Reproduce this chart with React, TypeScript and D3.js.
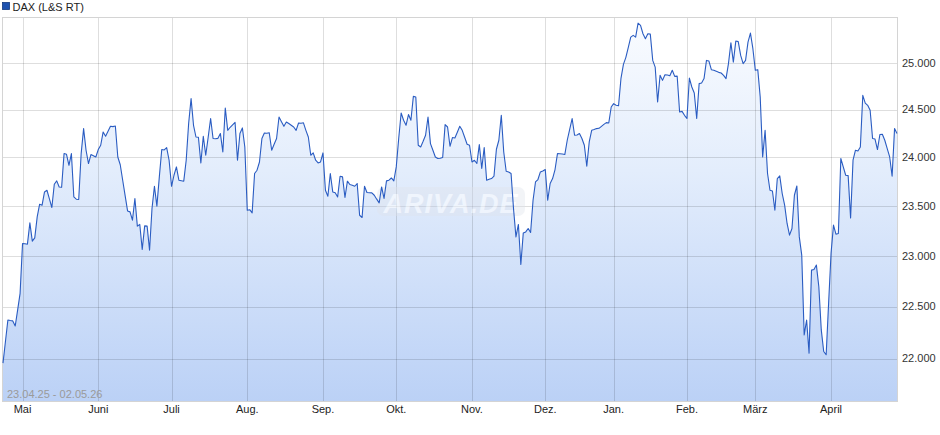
import React from "react";
import * as d3 from "d3";

// ---------- data ----------
const seriesName = "DAX (L&S RT)";
const rangeLabel = "23.04.25 - 02.05.26";
const watermark = "ARIVA.DE";
const firstDay = new Date(2025, 3, 23);
const dayAfterLast = new Date(2026, 4, 3);
const closedDays = [
  "2025-12-24", "2025-12-25", "2025-12-26", "2026-01-01",
  "2026-04-03", "2026-04-04", "2026-04-05", "2026-04-06",
];
const monthLabels = ["Mai", "Juni", "Juli", "Aug.", "Sep.", "Okt.", "Nov.", "Dez.", "Jan.", "Feb.", "März", "April"];
const yTicks = [22000, 22500, 23000, 23500, 24000, 24500, 25000];
const yDomain = [21600, 25500];

// 23.04.25 - 31.07.25
const valuesAprJul = [
  21957, 22163, 22370, 22365, 22361, 22312, 22467, 22629, 23122, 23119,
  23115, 23329, 23145, 23178, 23389, 23518, 23508, 23643, 23660, 23573,
  23484, 23722, 23756, 23694, 23690, 24038, 24031, 23917, 24038, 23592,
  23569, 23566, 24038, 24299, 24073, 23935, 24028, 24016, 24003, 24080,
  24125, 24264, 24219, 24271, 24323, 24320, 24326, 24003, 23922, 23763,
  23606, 23450, 23440, 23356, 23576, 23296, 23313, 23062, 23299, 23296,
  23055, 23474, 23701, 23498, 23797, 24080, 24076, 24101, 23969, 23701,
  23814, 23900, 23763, 23758, 23753, 23969, 24352, 24616, 24334, 24211,
  24208, 23941, 24219, 24021, 24208, 24405, 24195, 24192, 24197, 24247,
  24055, 24516, 24281, 24313, 24339, 24365, 23969, 24247, 24306, 24107,
];
// 01.08.25 - 31.10.25
const valuesAugOct = [
  23457, 23462, 23430, 23832, 23866, 23951, 24195, 24253, 24250, 24256,
  24073, 24135, 24195, 24421, 24371, 24323, 24369, 24352, 24334, 24316,
  24281, 24358, 24355, 24360, 24281, 24211, 24021, 24045, 23969, 23941,
  23951, 24045, 23660, 23599, 23832, 23643, 23635, 23592, 23804, 23797,
  23586, 23753, 23719, 23712, 23701, 23729, 23406, 23383, 23701, 23637,
  23635, 23633, 23609, 23569, 23531, 23694, 23576, 23756, 23763, 23786,
  23756, 23900, 24195, 24464, 24387, 24334, 24447, 24387, 24640, 24633,
  24125, 24107, 24166, 24229, 24421, 24142, 24073, 24003, 23987, 23990,
  23997, 24341, 24316, 24114, 24205, 24200, 24261, 24323, 24281, 24208,
  24135, 24125,
];
// 01.11.25 - 31.01.26
const valuesNovJan = [
  23951, 23969, 23935, 24132, 23883, 24101, 23763, 23773, 23780, 23804,
  24083, 24177, 24439, 24055, 23855, 23848, 23832, 23474, 23188, 23313,
  22914, 23228, 23238, 23272, 23232, 23558, 23745, 23770, 23848, 23858,
  23873, 23558, 23729, 23780, 23873, 24038, 24036, 24033, 24028, 24177,
  24292, 24405, 24229, 24232, 24247, 24195, 24125, 23907, 24159, 24281,
  24289, 24299, 24302, 24323, 24344, 24362, 24358, 24527, 24563, 24545,
  24540, 24833, 24983, 25059, 25167, 25279, 25298, 25279, 25432, 25407,
  25316, 25262, 25316, 25312, 25026, 24954, 24580, 24865, 24811, 24872,
  24869, 24860, 24919, 24854, 24857, 24474, 24481, 24439,
];
// 01.02.26 - 02.05.26
const valuesFebMay = [
  24405, 24836, 24740, 24676, 24405, 24776, 24782, 24830, 25026, 25019,
  24926, 24919, 24908, 24897, 24890, 24865, 24830, 24991, 25218, 25008,
  25236, 25230, 25080, 24991, 25026, 25225, 25323, 25153, 24919, 24926,
  24633, 24003, 24281, 23832, 23660, 23653, 23457, 23780, 23807, 23627,
  23508, 23323, 23205, 23272, 23609, 23704, 23188, 23006, 22226, 22370,
  22052, 22857, 22864, 22907, 22693, 22274, 22067, 22036, 22532, 23023,
  23306, 23215, 23222, 23987, 23900, 23814, 23810, 23379, 23969, 24073,
  24065, 24107, 24651, 24569, 24545, 24492, 24195, 24190, 24080, 24237,
  24240, 24177, 24090, 24003, 23804, 24299, 24247,
];

const values = [...valuesAprJul, ...valuesAugOct, ...valuesNovJan, ...valuesFebMay];

// ---------- chart ----------
const W = 940;
const H = 435;
const plot = { left: 3, right: 897, top: 17, bottom: 401 };
const font = "Arial, 'Liberation Sans', Helvetica, sans-serif";

const fmtKey = d3.timeFormat("%Y-%m-%d");
const dates = d3.timeDay.range(firstDay, dayAfterLast).filter((d) => !closedDays.includes(fmtKey(d)));

const de = d3.formatLocale({ decimal: ",", thousands: ".", grouping: [3], currency: ["", " €"] });
const fmtY = de.format(",.0f");

export default function App() {
  const n = Math.min(values.length, dates.length);
  const data = values.slice(0, n);
  const x = d3.scaleLinear().domain([0, n - 1]).range([plot.left, plot.right]);
  const y = d3.scaleLog().domain(yDomain).range([plot.bottom, plot.top]);

  const monthTicks = dates
    .slice(0, n)
    .map((d, i) => ({ d, i }))
    .filter(({ d, i }) => i > 0 && d.getMonth() !== dates[i - 1].getMonth())
    .slice(0, monthLabels.length)
    .map((t, k) => ({ ...t, label: monthLabels[k] }));

  const line = d3
    .line<number>()
    .x((_, i) => x(i))
    .y((v) => y(v));
  const area = d3
    .area<number>()
    .x((_, i) => x(i))
    .y0(plot.bottom)
    .y1((v) => y(v));

  return (
    <svg
      width={W}
      height={H}
      style={{ position: "absolute", left: 0, top: 0, background: "#fff" }}
      fontFamily={font}
    >
      <defs>
        <linearGradient id="fillGrad" gradientUnits="userSpaceOnUse" x1={0} y1={plot.top} x2={0} y2={plot.bottom}>
          <stop offset="0%" stopColor="#fafcff" />
          <stop offset="40%" stopColor="#e3edfc" />
          <stop offset="100%" stopColor="#bbd1f6" />
        </linearGradient>
        <clipPath id="plotClip">
          <rect x={plot.left} y={plot.top} width={plot.right - plot.left} height={plot.bottom - plot.top} />
        </clipPath>
      </defs>

      <rect x={0} y={0} width={W} height={H} fill="#fff" />

      {/* area fill */}
      <path d={area(data) || ""} fill="url(#fillGrad)" clipPath="url(#plotClip)" />

      {/* gridlines */}
      {yTicks.map((t) => (
        <line
          key={"h" + t}
          x1={plot.left}
          x2={plot.right}
          y1={Math.round(y(t)) + 0.5}
          y2={Math.round(y(t)) + 0.5}
          stroke="#000"
          strokeOpacity={0.13}
        />
      ))}
      {monthTicks.map((t) => (
        <line
          key={"v" + t.i}
          x1={Math.round(x(t.i)) + 0.5}
          x2={Math.round(x(t.i)) + 0.5}
          y1={plot.top}
          y2={plot.bottom}
          stroke="#000"
          strokeOpacity={0.13}
        />
      ))}

      {/* frame */}
      <rect
        x={plot.left - 0.5}
        y={plot.top + 0.5}
        width={plot.right - plot.left + 1}
        height={plot.bottom - plot.top}
        fill="none"
        stroke="#d4d4d4"
      />

      {/* watermark */}
      <g opacity={0.55}>
        <rect x={377} y={187} width={148} height={29} rx={7} fill="#dfe4ec" opacity={0.7} />
        <text
          x={451}
          y={213}
          textAnchor="middle"
          fontSize={27}
          fontWeight="bold"
          fontStyle="italic"
          fill="#ffffff"
          letterSpacing={1}
        >
          {watermark}
        </text>
      </g>

      {/* line */}
      <path d={line(data) || ""} fill="none" stroke="#2a5cc2" strokeWidth={1.1} strokeLinejoin="round" />

      {/* date range label */}
      <text x={7} y={398} fontSize={11} fill="#9a9a9a">
        {rangeLabel}
      </text>

      {/* right axis */}
      {yTicks.map((t) => (
        <text key={"yl" + t} x={902} y={y(t)} dy="0.35em" fontSize={11} fill="#333">
          {fmtY(t)}
        </text>
      ))}

      {/* bottom axis */}
      {monthTicks.map((t) => (
        <text key={"xl" + t.i} x={x(t.i)} y={413} textAnchor="middle" fontSize={11} fill="#222">
          {t.label}
        </text>
      ))}

      {/* legend */}
      <rect x={2.5} y={2.5} width={7} height={7} fill="#1d52b0" stroke="#123a80" strokeWidth={0.8} />
      <text x={12.5} y={10.5} fontSize={11} fill="#222">
        {seriesName}
      </text>
    </svg>
  );
}
